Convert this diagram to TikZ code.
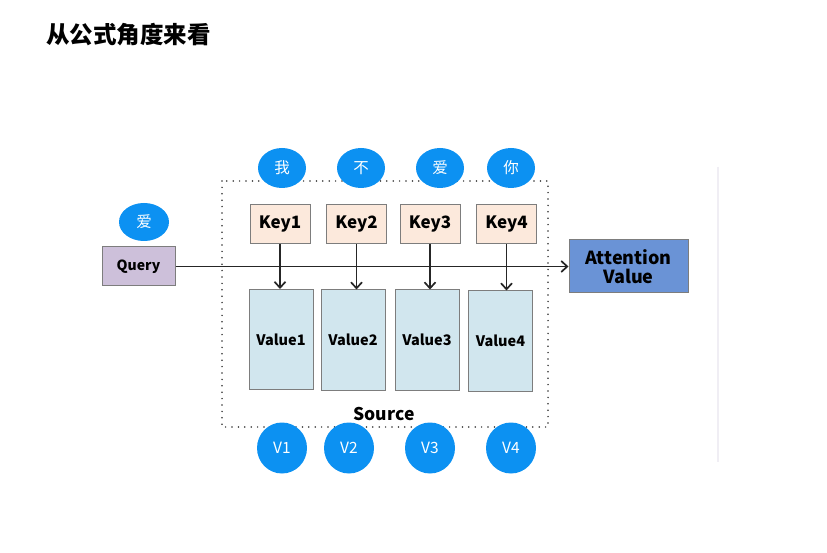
\documentclass[tikz,border=0pt]{standalone}
\usepackage{fontspec}
\setmainfont{Noto Sans CJK SC}
\usetikzlibrary{arrows.meta,shapes.geometric}
\definecolor{bubble}{RGB}{12,145,242}
\definecolor{queryfill}{RGB}{205,192,218}
\definecolor{keyfill}{RGB}{252,233,220}
\definecolor{valfill}{RGB}{209,230,238}
\definecolor{attfill}{RGB}{106,147,214}
\definecolor{boxline}{RGB}{125,125,125}
\begin{document}
\begin{tikzpicture}[x=1pt,y=-1pt,
  bubblenode/.style={ellipse,fill=bubble,draw=none,text=white,inner sep=0pt,font=\fontsize{15.5}{17}\selectfont},
  querybox/.style={draw=boxline,line width=1pt,fill=queryfill,minimum width=73pt,minimum height=39pt,inner sep=0pt,font=\bfseries\fontsize{14}{16}\selectfont},
  keybox/.style={draw=boxline,line width=1pt,fill=keyfill,minimum width=60pt,minimum height=39pt,inner sep=0pt,font=\bfseries\fontsize{17}{19}\selectfont},
  valbox/.style={draw=boxline,line width=1pt,fill=valfill,minimum width=64pt,minimum height=100pt,inner sep=0pt,font=\bfseries\fontsize{14.5}{16}\selectfont},
  attbox/.style={draw=boxline,line width=1pt,fill=attfill,minimum width=119pt,minimum height=53pt,inner sep=0pt,align=center,font=\bfseries\fontsize{18}{20}\selectfont},
  arr/.style={-{Straight Barb[length=6pt,width=11pt]},line width=1.7pt,black!85},
  sourcebox/.style={draw=black!80,line width=1.7pt,dash pattern=on 0pt off 6.4pt,line cap=round}
]
\useasboundingbox (0,0) rectangle (827,553);
\fill[white] (0,0) rectangle (827,553);

% title
\node[anchor=west,font=\bfseries\fontsize{23.5}{26}\selectfont,inner sep=0pt] (title) at (46,35) {从公式角度来看};

% faint separator
\draw[color={rgb,255:red,240;green,238;blue,244},line width=1.6pt] (718,167) -- (718,462);

% source frame
\draw[sourcebox] (222,181) rectangle (548,427);
\node[font=\bfseries\fontsize{17.5}{19}\selectfont,inner sep=0pt] (source) at (384,414) {Source};

% query
\node[querybox] (query) at (138.5,266.5) {Query};
\node[bubblenode,minimum width=50pt,minimum height=38pt] (qb) at (144,222) {爱};

% attention
\node[attbox] (att) at (628.5,266.5) {Attention\\[-1pt]Value};

% keys
\node[keybox] (k1) at (280,224.5) {Key1};
\node[keybox] (k2) at (356.5,224.5) {Key2};
\node[keybox] (k3) at (430,224.5) {Key3};
\node[keybox] (k4) at (506.5,224.5) {Key4};

% top bubbles
\node[bubblenode,minimum width=48pt,minimum height=40pt] (t1) at (282,168) {我};
\node[bubblenode,minimum width=48pt,minimum height=40pt] (t2) at (361,168) {不};
\node[bubblenode,minimum width=48pt,minimum height=40pt] (t3) at (440,168) {爱};
\node[bubblenode,minimum width=48pt,minimum height=40pt] (t4) at (511,168) {你};

% values
\node[valbox] (v1) at (281,339.5) {Value1};
\node[valbox] (v2) at (353,340) {Value2};
\node[valbox] (v3) at (427,340) {Value3};
\node[valbox] (v4) at (500.5,341) {Value4};

% bottom bubbles
\node[bubblenode,minimum width=50pt,minimum height=51pt] (b1) at (282,448) {V1};
\node[bubblenode,minimum width=50pt,minimum height=51pt] (b2) at (349,448) {V2};
\node[bubblenode,minimum width=50pt,minimum height=51pt] (b3) at (430,448) {V3};
\node[bubblenode,minimum width=50pt,minimum height=51pt] (b4) at (511,448) {V4};

% connectors
\draw[arr] (query.east) -- (att.west);
\draw[arr] (k1.south) -- (k1.south |- v1.north);
\draw[arr] (k2.south) -- (k2.south |- v2.north);
\draw[arr] (k3.south) -- (k3.south |- v3.north);
\draw[arr] (k4.south) -- (k4.south |- v4.north);
\end{tikzpicture}
\end{document}
